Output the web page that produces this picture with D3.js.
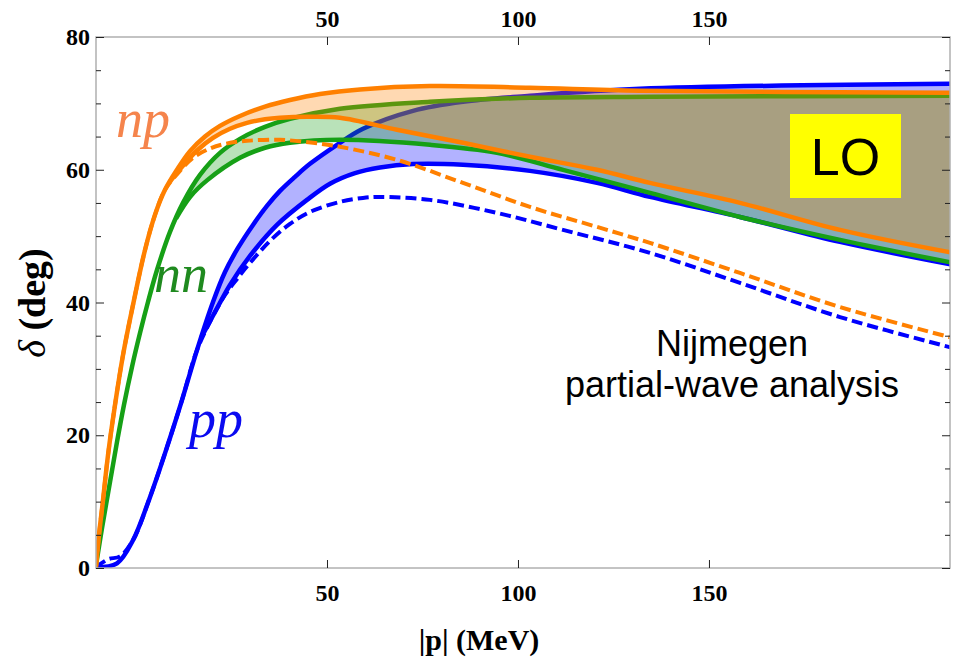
<!DOCTYPE html>
<html>
<head>
<meta charset="utf-8">
<script src="https://cdn.jsdelivr.net/npm/d3@7"></script>
<style>
    body { margin: 0; background: #fff; }
    svg { display: block; }
    .tick line { stroke: #222; stroke-width: 1; }
</style>
</head>
<body>
<svg id="chart" width="953" height="660"></svg>
<script>
// phase shifts (deg) vs |p| (MeV)
var npUpper = [[-10.47,0.11],[-9.69,4.93],[-8.64,10.21],[-7.33,17.0],[-5.5,24.54],[-3.4,32.08],[-0.79,39.62],[2.36,47.92],[4.97,53.2],[7.59,56.97],[10.73,60.0],[14.14,62.8],[18.06,65.0],[21.99,66.6],[27.23,68.1],[33.77,69.5],[40.31,70.5],[48.17,71.4],[58.64,72.1],[76.96,72.6],[103.14,72.35],[131.94,71.9],[214,71.6]];
var npLower = [[8.9,58.2],[11.52,60.1],[15.97,62.9],[20.16,64.8],[24.61,66.17],[29.06,67.07],[33.77,67.6],[37.7,67.83],[44.76,67.98],[53.4,67.83],[68.32,66.02],[85.6,64.06],[103.14,61.95],[120.68,59.99],[134.55,58.02],[158.12,55.01],[184.29,50.94],[214,47.47]];
var npNijmegen = [[-10.47,0.11],[-9.69,4.93],[-8.64,10.21],[-7.33,17.0],[-5.5,24.54],[-3.4,32.08],[-0.79,39.62],[2.36,47.92],[4.97,53.2],[7.59,56.97],[10.99,59.5],[14.92,61.8],[19.37,63.2],[23.3,63.9],[29.06,64.36],[37.7,64.51],[46.34,64.06],[53.4,63.46],[68.32,61.49],[85.6,58.02],[103.14,54.4],[120.68,51.39],[134.55,48.98],[158.12,44.45],[184.29,39.32],[214,34.64]];
var nnUpper = [[-10.47,0.41],[-8.9,5.99],[-6.81,12.93],[-4.97,19.0],[-3.14,24.6],[-1.05,30.3],[1.05,35.4],[3.14,40.08],[5.5,44.9],[8.9,50.63],[12.3,55.01],[16.75,59.23],[21.99,62.55],[27.23,64.66],[33.77,66.47],[40.31,67.68],[53.4,69.19],[76.96,70.24],[103.14,70.84],[134.55,71.0],[214,71.15]];
var nnLower = [[10.47,52.65],[14.14,55.9],[18.59,58.4],[27.23,61.8],[33.77,63.31],[40.31,64.06],[53.4,64.51],[76.96,63.76],[94.5,62.55],[111.78,59.99],[134.55,56.52],[158.12,52.89],[184.29,49.43],[214,45.96]];
var ppUpper = [[-10.47,0.11],[-4.97,0.71],[-0.79,4.18],[3.66,10.67],[8.12,18.21],[12.04,25.29],[15.97,32.83],[20.16,40.08],[23.3,44.6],[26.7,48.22],[30.63,51.69],[34.29,54.55],[37.7,56.82],[41.62,58.93],[45.55,60.89],[52.62,63.76],[59.42,66.17],[72.51,68.88],[85.6,70.24],[103.14,71.15],[131.94,72.2],[214,72.96]];
var ppLower = [[17.02,34.65],[20.68,38.57],[24.61,42.64],[29.84,47.01],[36.91,51.69],[44.76,55.46],[50.79,57.9],[57.33,59.5],[63.87,60.35],[72.51,60.85],[85.6,60.74],[103.14,59.83],[120.68,58.02],[134.55,55.91],[158.12,52.89],[184.29,49.13],[214,45.66]];
var ppNijmegen = [[-10.47,0.11],[-7.33,1.31],[-4.19,1.76],[-0.79,4.18],[3.66,10.67],[8.12,18.21],[12.04,25.29],[15.97,32.83],[20.16,37.96],[23.3,41.13],[26.44,43.55],[29.84,45.96],[35.08,49.28],[40.31,51.84],[45.55,53.65],[53.4,55.16],[59.42,55.76],[63.87,55.91],[76.96,55.46],[94.5,53.5],[111.78,50.94],[134.55,47.47],[158.12,42.95],[184.29,37.81],[214,33.13]];

var xTicks = [50, 100, 150];
var yTicks = [0, 20, 40, 60, 80];
var yMinor = [5, 10, 15, 25, 30, 35, 45, 50, 55, 65, 70, 75];

var svg = d3.select("#chart");
var plotL = 96, plotR = 950, plotT = 37, plotB = 568;
var serif = "'Liberation Serif', 'Times New Roman', serif";
var sans = "'Liberation Sans', Arial, sans-serif";

var x = d3.scaleLinear().domain([-10.47, 213.1]).range([plotL, plotR]);
var y = d3.scaleLinear().domain([0, 80]).range([plotB, plotT]);

svg.append("defs").append("clipPath").attr("id", "plotclip")
    .append("rect").attr("x", plotL).attr("y", plotT)
    .attr("width", plotR - plotL).attr("height", plotB - plotT);

var line = d3.line()
    .x(function (d) { return x(d[0]); })
    .y(function (d) { return y(d[1]); })
    .curve(d3.curveCatmullRom.alpha(0.5));

// band = upper curve from where the lower one splits off, back along the lower one
function bandPath(upper, lower) {
    var up = upper.filter(function (d) { return d[0] > lower[0][0]; });
    up.unshift(lower[0]);
    var back = lower.slice().reverse();
    return line(up) + line(back).replace(/^M/, "L") + "Z";
}

var plot = svg.append("g").attr("clip-path", "url(#plotclip)");

// drawn per channel: pp first, then nn, then np on top
var channels = [
    {up: ppUpper, lo: ppLower, nij: ppNijmegen, color: "#0000ff"},
    {up: nnUpper, lo: nnLower, nij: null, color: "#16a016"},
    {up: npUpper, lo: npLower, nij: npNijmegen, color: "#ff8000"}
];

channels.forEach(function (c) {
    var g = plot.append("g");
    if (c.nij) {
        g.append("path").attr("d", line(c.nij))
            .attr("fill", "none").attr("stroke", c.color)
            .attr("stroke-width", 4).attr("stroke-dasharray", "11,5");
    }
    g.append("path").attr("d", bandPath(c.up, c.lo))
        .attr("fill", c.color).attr("fill-opacity", 0.3).attr("stroke", "none");
    [c.up, c.lo].forEach(function (s) {
        g.append("path").attr("d", line(s))
            .attr("fill", "none").attr("stroke", c.color)
            .attr("stroke-width", 4.5).attr("stroke-linejoin", "round");
    });
});

// frame
svg.append("rect").attr("x", plotL).attr("y", plotT)
    .attr("width", plotR - plotL).attr("height", plotB - plotT)
    .attr("fill", "none").attr("stroke", "#b0b0b0").attr("stroke-width", 1.5);

// axes, ticks pointing inward
function addAxis(axis, tx, ty) {
    var g = svg.append("g").attr("transform", "translate(" + tx + "," + ty + ")").call(axis);
    g.select(".domain").remove();
    g.attr("font-family", serif).attr("font-size", 24).attr("font-weight", "bold");
    g.selectAll(".tick text").attr("fill", "#000");
    return g;
}
addAxis(d3.axisBottom(x).tickValues(xTicks).tickSize(-8).tickPadding(16), 0, plotB);
addAxis(d3.axisTop(x).tickValues(xTicks).tickSize(-8).tickPadding(10), 0, plotT);
addAxis(d3.axisLeft(y).tickValues(yTicks).tickSize(-8).tickPadding(6), plotL, 0);
addAxis(d3.axisLeft(y).tickValues(yMinor).tickSize(-5).tickFormat(""), plotL, 0);
addAxis(d3.axisRight(y).tickValues(yTicks).tickSize(-8).tickFormat(""), plotR, 0);
addAxis(d3.axisRight(y).tickValues(yMinor).tickSize(-5).tickFormat(""), plotR, 0);

// axis titles
svg.append("text")
    .attr("x", 479).attr("y", 650)
    .attr("text-anchor", "middle")
    .style("font-family", serif)
    .style("font-weight", "bold").style("font-size", "30px")
    .text("|p| (MeV)");

var yt = svg.append("text")
    .attr("transform", "translate(45,303) rotate(-90)")
    .attr("text-anchor", "middle")
    .style("font-family", serif)
    .style("font-size", "38px");
yt.append("tspan").style("font-style", "italic").text("δ");
yt.append("tspan").style("font-weight", "bold").text(" (deg)");

// channel labels
var labels = [
    {t: "np", x: 116, y: 137, c: "#f5844c"},
    {t: "nn", x: 154, y: 292, c: "#1f8a1f"},
    {t: "pp", x: 189, y: 437, c: "#0a0af0"}
];
svg.selectAll("text.lab").data(labels).enter().append("text")
    .attr("class", "lab")
    .attr("x", function (d) { return d.x; })
    .attr("y", function (d) { return d.y; })
    .attr("fill", function (d) { return d.c; })
    .style("font-family", serif)
    .style("font-style", "italic").style("font-size", "54px")
    .text(function (d) { return d.t; });

// LO box
svg.append("rect").attr("x", 790).attr("y", 114).attr("width", 111).attr("height", 84).attr("fill", "#ffff00");
svg.append("text").attr("x", 845.5).attr("y", 175).attr("text-anchor", "middle")
    .style("font-family", sans).style("font-size", "52px")
    .text("LO");

// Nijmegen note
var note = svg.append("text").attr("text-anchor", "middle")
    .style("font-family", sans).style("font-size", "36px");
note.append("tspan").attr("x", 732).attr("y", 356).text("Nijmegen");
note.append("tspan").attr("x", 732).attr("y", 397).text("partial-wave analysis");
</script>
</body>
</html>
